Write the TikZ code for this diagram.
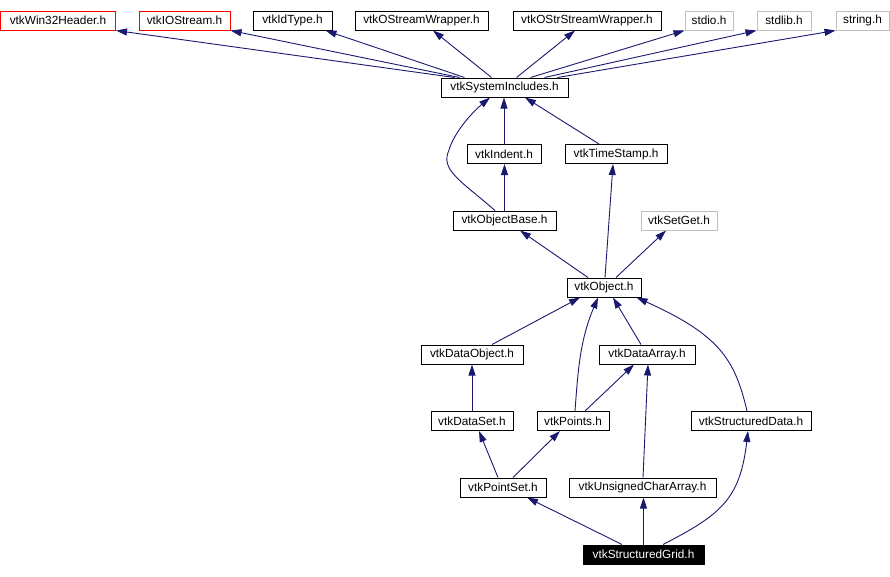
\documentclass[tikz,border=0pt]{standalone}
\usepackage{fontspec}
\setmainfont{Liberation Sans}
\usetikzlibrary{arrows.meta}
\definecolor{edgeblue}{HTML}{191970}
\definecolor{greyborder}{HTML}{BFBFBF}
\tikzset{
  box/.style={draw=black, line width=1pt, minimum height=19pt, inner sep=0pt, font=\fontsize{11.8}{14}\selectfont, fill=white},
  redbox/.style={box, draw=red},
  greybox/.style={box, draw=greyborder},
  mainbox/.style={box, fill=black, text=white},
  dep/.style={draw=edgeblue, line width=0.9pt, -{Triangle[length=11pt,width=7pt]}, color=edgeblue}
}
\begin{document}
\begin{tikzpicture}[x=1pt,y=-1pt]
\useasboundingbox (0,0) rectangle (890,576);
% top row
\node[redbox, minimum width=115] (win32) at (58,20.5) {vtkWin32Header.h};
\node[redbox, minimum width=91] (iostream) at (184.5,20.5) {vtkIOStream.h};
\node[box, minimum width=79] (idtype) at (292.5,20.5) {vtkIdType.h};
\node[box, minimum width=133] (ostream) at (421.5,20.5) {vtkOStreamWrapper.h};
\node[box, minimum width=148] (ostrstream) at (587,20.5) {vtkOStrStreamWrapper.h};
\node[greybox, minimum width=48] (stdio) at (709,20.5) {stdio.h};
\node[greybox, minimum width=54] (stdlib) at (784,20.5) {stdlib.h};
\node[greybox, minimum width=53] (string) at (862.5,20.5) {string.h};
% second
\node[box, minimum width=127] (sysinc) at (504.5,87.5) {vtkSystemIncludes.h};
\node[box, minimum width=74] (indent) at (504,154) {vtkIndent.h};
\node[box, minimum width=102] (timestamp) at (616,154) {vtkTimeStamp.h};
\node[box, minimum width=103] (objbase) at (504.5,220.5) {vtkObjectBase.h};
\node[greybox, minimum width=76] (setget) at (679,220.5) {vtkSetGet.h};
\node[box, minimum width=74] (object) at (604,287.5) {vtkObject.h};
\node[box, minimum width=102] (dataobj) at (472,354.5) {vtkDataObject.h};
\node[box, minimum width=96] (dataarray) at (647,354.5) {vtkDataArray.h};
\node[box, minimum width=82] (dataset) at (472,421) {vtkDataSet.h};
\node[box, minimum width=72] (points) at (573,421) {vtkPoints.h};
\node[box, minimum width=120] (structdata) at (751,421) {vtkStructuredData.h};
\node[box, minimum width=86] (pointset) at (503,487.5) {vtkPointSet.h};
\node[box, minimum width=147] (uchar) at (642.5,487.5) {vtkUnsignedCharArray.h};
\node[mainbox, minimum width=121] (grid) at (643.5,554.5) {vtkStructuredGrid.h};
% edges to top row
\draw[dep] ([xshift=14]sysinc.north west) -- (win32.south east);
\draw[dep] ([xshift=19]sysinc.north west) -- (iostream.south east);
\draw[dep] ([xshift=24]sysinc.north west) -- ([xshift=-7]idtype.south east);
\draw[dep] ([xshift=51]sysinc.north west) -- ([xshift=11.5]ostream.south);
\draw[dep] ([xshift=76]sysinc.north west) -- ([xshift=-12]ostrstream.south);
\draw[dep] ([xshift=90]sysinc.north west) -- (stdio.south west);
\draw[dep] ([xshift=104]sysinc.north west) -- (stdlib.south west);
\draw[dep] ([xshift=117]sysinc.north west) -- (string.south west);
% middle
\draw[dep] (indent.north) -- (indent.north |- sysinc.south);
\draw[dep] ([xshift=-17]timestamp.north) -- ([xshift=20.5]sysinc.south);
\draw[dep] ([xshift=-9.5]objbase.north) .. controls (460,180) and (440,170) .. (449,150) .. controls (455,130) and (475,110) .. ([xshift=-14.5]sysinc.south);
\draw[dep] (objbase.north) -- (objbase.north |- indent.south);
\draw[dep] ([xshift=-16]object.north) -- ([xshift=15.5]objbase.south);
\draw[dep] ([xshift=1]object.north) -- ([xshift=-3]timestamp.south);
\draw[dep] ([xshift=12]object.north) -- ([xshift=-13]setget.south);
% lower
\draw[dep] ([xshift=20]dataobj.north) -- ([xshift=-24]object.south);
\draw[dep] ([xshift=2]points.north) .. controls (578,370) and (580,340) .. ([xshift=-6]object.south);
\draw[dep] ([xshift=-6]dataarray.north) -- ([xshift=9]object.south);
\draw[dep] ([xshift=-4]structdata.north) .. controls (735,360) and (720,335) .. ([xshift=-5]object.south east);
\draw[dep] (dataset.north) -- (dataobj.south);
\draw[dep] ([xshift=12]points.north) -- ([xshift=-13]dataarray.south);
\draw[dep] ([xshift=-5]pointset.north) -- ([xshift=7]dataset.south);
\draw[dep] ([xshift=10]pointset.north) -- ([xshift=-13]points.south);
\draw[dep] ([xshift=0.5]uchar.north) -- ([xshift=1]dataarray.south);
\draw[dep] ([xshift=-21.5]grid.north) -- ([xshift=24]pointset.south);
\draw[dep] (grid.north) -- (grid.north |- uchar.south);
\draw[dep] ([xshift=19.5]grid.north) .. controls (720,515) and (740,500) .. ([xshift=-3]structdata.south);
\end{tikzpicture}
\end{document}
